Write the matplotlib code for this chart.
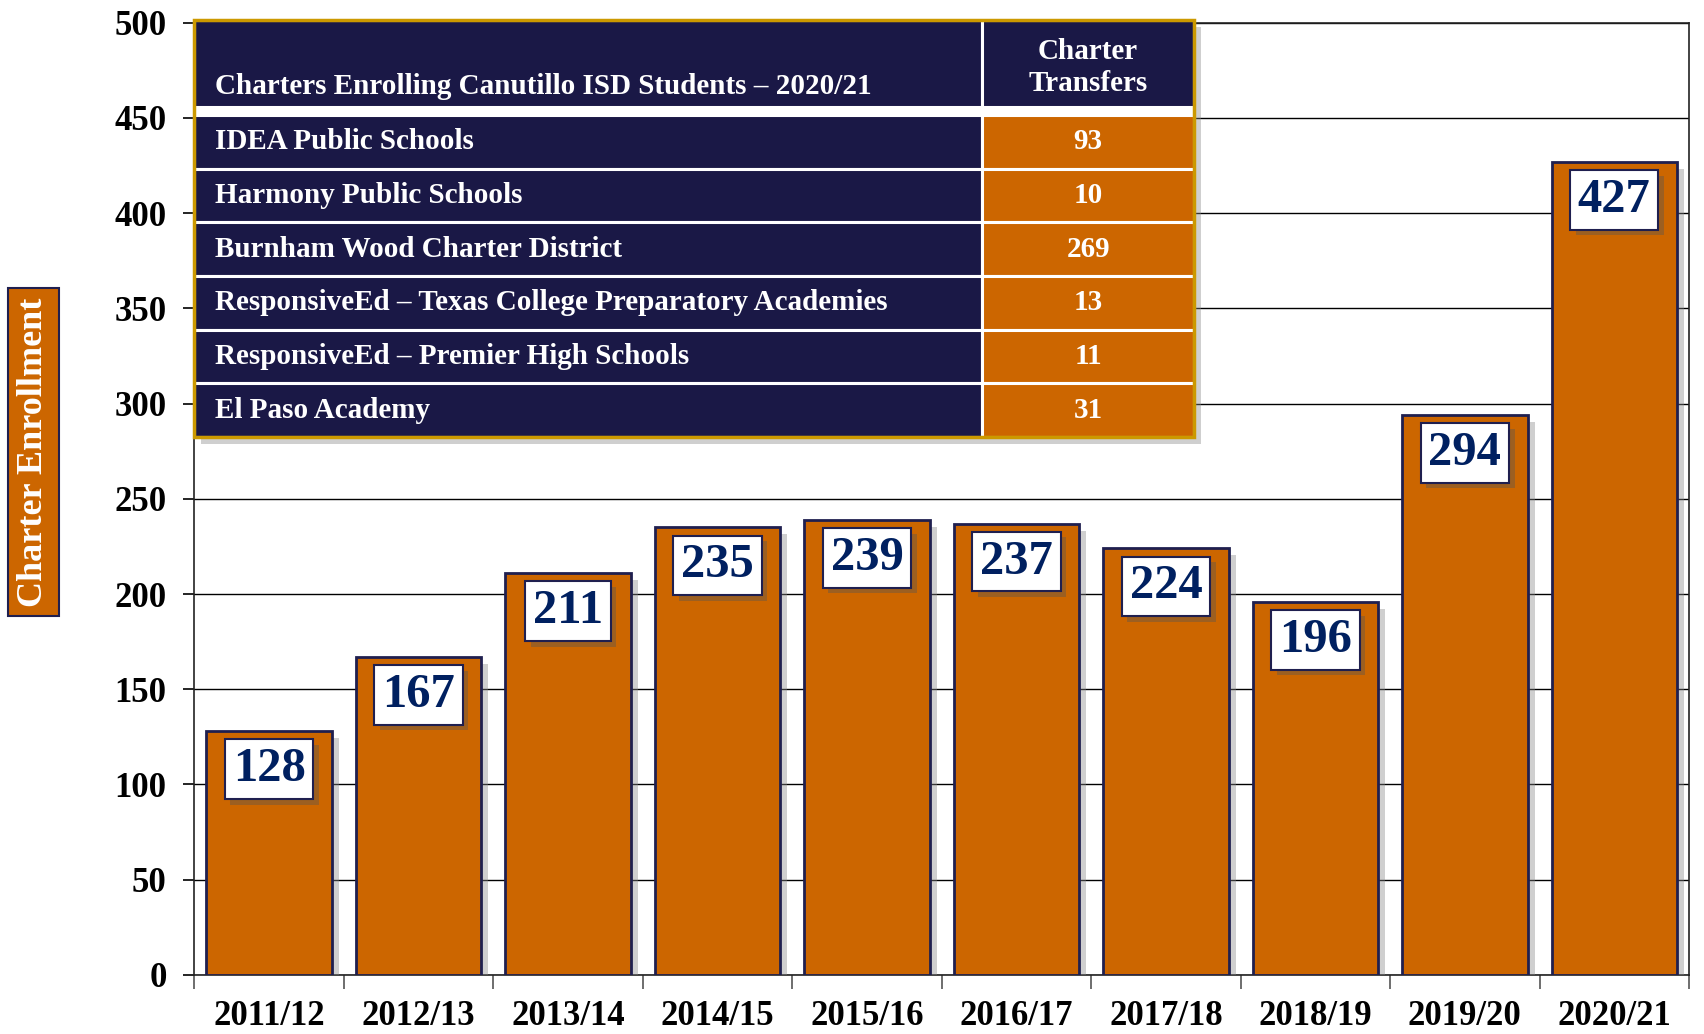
import matplotlib
matplotlib.use('Agg')
import matplotlib.pyplot as plt
import matplotlib.patheffects as pe
from matplotlib.patches import Rectangle

years = ['2011/12', '2012/13', '2013/14', '2014/15', '2015/16',
         '2016/17', '2017/18', '2018/19', '2019/20', '2020/21']
enrollment = [128, 167, 211, 235, 239, 237, 224, 196, 294, 427]

charters = ['IDEA Public Schools', 'Harmony Public Schools',
            'Burnham Wood Charter District',
            'ResponsiveEd \u2013 Texas College Preparatory Academies',
            'ResponsiveEd \u2013 Premier High Schools', 'El Paso Academy']
transfers = [93, 10, 269, 13, 11, 31]

ORANGE = '#CC6600'
NAVY = '#1A1846'
GOLD = '#CC9900'
LABEL_BLUE = '#002060'
SERIF = ['Liberation Serif', 'DejaVu Serif']

plt.rcParams['font.family'] = SERIF
plt.rcParams['font.weight'] = 'bold'


def main():
    fig = plt.figure(figsize=(17.04, 10.34), dpi=100)
    ax = fig.add_axes([0.1141, 0.0571, 0.8771, 0.9210])

    x = list(range(len(years)))
    shadow = [pe.SimplePatchShadow(offset=(5, -5), shadow_rgbFace='#888888', alpha=0.4), pe.Normal()]
    bars = ax.bar(x, enrollment, width=0.84, color=ORANGE, edgecolor='#1F1F4F',
                  linewidth=2, zorder=3)
    for b in bars:
        b.set_path_effects(shadow)

    for xi, v in zip(x, enrollment):
        t = ax.text(xi, v - 20, str(v), ha='center', va='center', fontsize=35,
                    fontweight='bold', color=LABEL_BLUE, zorder=4,
                    bbox=dict(boxstyle='square,pad=0.16', fc='white', ec='#1F1F4F', lw=1.5))
        t.get_bbox_patch().set_path_effects(
            [pe.SimplePatchShadow(offset=(4, -4), shadow_rgbFace='#555555', alpha=0.4), pe.Normal()])

    ax.set_ylim(0, 500)
    ax.set_xlim(-0.5, len(years) - 0.5)
    ax.set_yticks(range(0, 501, 50))
    ax.yaxis.grid(True, color='black', linewidth=1)
    ax.set_axisbelow(True)
    ax.tick_params(axis='y', labelsize=25, length=8, width=1.2, pad=12, direction='out')
    ax.set_xticks(x)
    ax.set_xticklabels(years)
    ax.set_xticks([i + 0.5 for i in range(-1, len(years))], minor=True)
    ax.tick_params(axis='x', which='major', length=0, labelsize=25, pad=18)
    ax.tick_params(axis='x', which='minor', length=10, width=1.2, color='#555555')
    for s in ax.spines.values():
        s.set_color('#222222')
        s.set_linewidth(1.2)

    # y label in orange box
    fig.text(0.0196, 0.563, 'Charter Enrollment', rotation=90, ha='center', va='center',
             fontsize=26, fontweight='bold', color='white',
             bbox=dict(boxstyle='square,pad=0.25', fc=ORANGE, ec='#1F1F4F', lw=1.5))

    # inset table
    tr = ax.transAxes
    left, split, right = 0.0, 0.527, 0.669
    top, head_bot, rows_top, bottom = 1.0028, 0.9115, 0.9031, 0.5650
    pitch = (rows_top - bottom) / len(charters)

    outer = Rectangle((left, bottom), right - left, top - bottom, transform=tr,
                      fc='white', ec='none', zorder=6, clip_on=False)
    outer.set_path_effects([pe.SimplePatchShadow(offset=(5, -5), shadow_rgbFace='#888888', alpha=0.4),
                            pe.Normal()])
    ax.add_patch(outer)

    cell_kw = dict(transform=tr, ec='white', lw=2.2, zorder=7, clip_on=False)
    ax.add_patch(Rectangle((left, head_bot), split - left, top - head_bot, fc=NAVY, **cell_kw))
    ax.add_patch(Rectangle((split, head_bot), right - split, top - head_bot, fc=NAVY, **cell_kw))
    ax.text(0.014, 0.933, 'Charters Enrolling Canutillo ISD Students \u2013 2020/21',
            transform=tr, ha='left', va='center', fontsize=21, color='white',
            fontweight='bold', zorder=8)
    ax.text((split + right) / 2, 0.953, 'Charter\nTransfers', transform=tr,
            ha='center', va='center', fontsize=21, color='white', fontweight='bold',
            linespacing=1.25, zorder=8)

    for i, (name, n) in enumerate(zip(charters, transfers)):
        y0 = rows_top - (i + 1) * pitch
        ax.add_patch(Rectangle((left, y0), split - left, pitch, fc=NAVY, **cell_kw))
        ax.add_patch(Rectangle((split, y0), right - split, pitch, fc=ORANGE, **cell_kw))
        ax.text(0.014, y0 + pitch / 2, name, transform=tr, ha='left', va='center',
                fontsize=21, color='white', fontweight='bold', zorder=8)
        ax.text((split + right) / 2, y0 + pitch / 2, str(n), transform=tr, ha='center',
                va='center', fontsize=21, color='white', fontweight='bold', zorder=8)

    ax.add_patch(Rectangle((left, bottom), right - left, top - bottom, transform=tr,
                           fc='none', ec=GOLD, lw=2.5, zorder=9, clip_on=False))

    fig.savefig('out.png', dpi=100)


if __name__ == '__main__':
    main()
